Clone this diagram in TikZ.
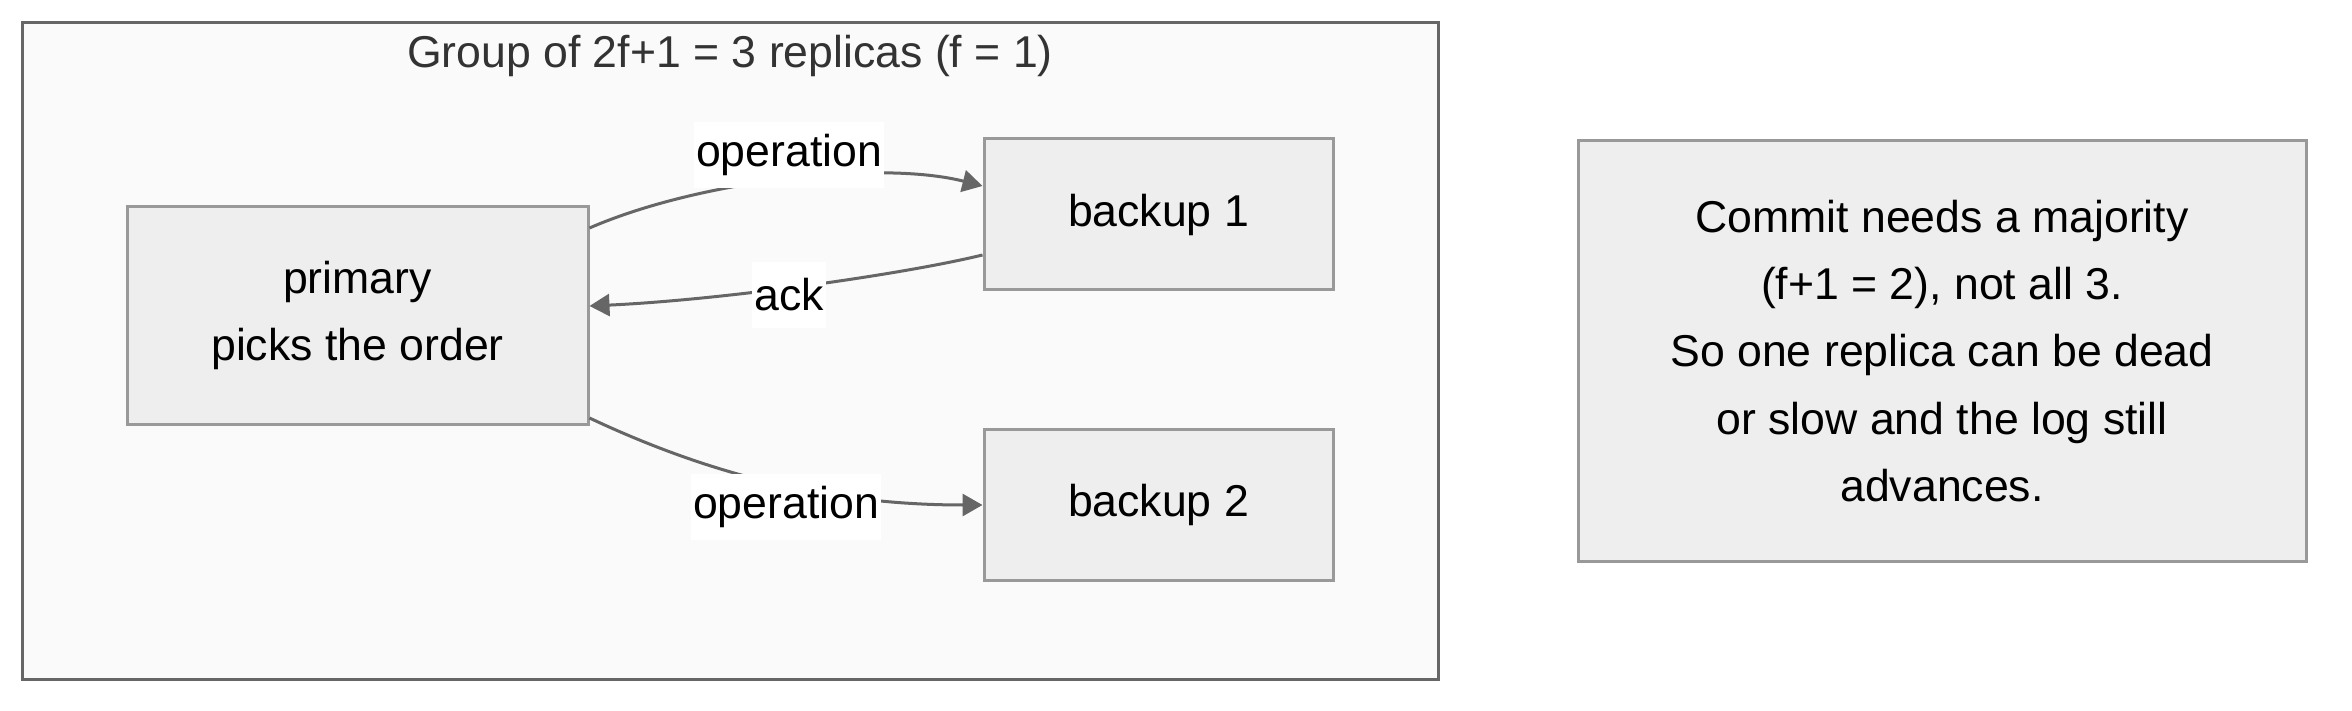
\documentclass[tikz,border=0pt]{standalone}
\usepackage{fontspec}
\setmainfont{Liberation Sans}
\usetikzlibrary{arrows.meta}
\newcommand\pxunit{0.5pt}
\definecolor{groupfill}{HTML}{FAFAFA}
\definecolor{groupline}{HTML}{666666}
\definecolor{boxfill}{HTML}{EEEEEE}
\definecolor{boxline}{HTML}{999999}
\definecolor{edgeline}{HTML}{666666}
\definecolor{titletext}{HTML}{333333}
\tikzset{box/.style={rectangle, draw=boxline, fill=boxfill, line width=1.5pt, align=center, inner sep=0pt},
         lbl/.style={fill=white, inner xsep=1pt, inner ysep=0pt, minimum height=33pt},
         msg/.style={draw=edgeline, line width=1.5pt, -{Triangle[length=10pt,width=11pt]}}}

\begin{document}
\begin{tikzpicture}[x=\pxunit, y=-\pxunit, font=\fontsize{22.3}{33.6}\selectfont]
                \useasboundingbox[fill=white] (0,0) rectangle (2352,711);
                % group of replicas
                \node[rectangle, draw=groupline, fill=groupfill, line width=1.5pt, minimum width=708pt, minimum height=328.5pt] (group) at (730.5,351) {};
                \node[text=titletext] (title) at (730,56) {Group of 2f+1 = 3 replicas (f = 1)};

                \node[box, minimum width=230.5pt, minimum height=108.5pt] (primary) at (357.5,315.5) {primary\\picks the order};
                \node[box, minimum width=174.5pt, minimum height=75.5pt] (backup1) at (1158.5,214.5) {backup 1};
                \node[box, minimum width=174.5pt, minimum height=75.5pt] (backup2) at (1158.5,505) {backup 2};

                \draw[msg] ([shift={(0,-87.5)}]primary.east) .. controls (700,180) and (880,160) .. ([shift={(0,-28.5)}]backup1.west)
                    node[lbl, pos=0.5, yshift=12pt] (op1) {operation};
                \draw[msg] ([shift={(0,40.5)}]backup1.west) .. controls (900,275) and (720,300) .. ([shift={(0,-9.5)}]primary.east)
                    node[lbl, pos=0.5, xshift=-7.5pt, yshift=-4.5pt] (ack) {ack};
                \draw[msg] ([shift={(0,102.5)}]primary.east) .. controls (700,470) and (820,505) .. (backup2.west)
                    node[lbl, pos=0.5, xshift=9.75pt, yshift=-12.75pt] (op2) {operation};

                % side note
                \node[box, minimum width=364pt, minimum height=210pt] (note) at (1942,351)
                    {Commit needs a majority\\(f+1 = 2), not all 3.\\So one replica can be dead\\or slow and the log still\\advances.};
            \end{tikzpicture}
\end{document}
